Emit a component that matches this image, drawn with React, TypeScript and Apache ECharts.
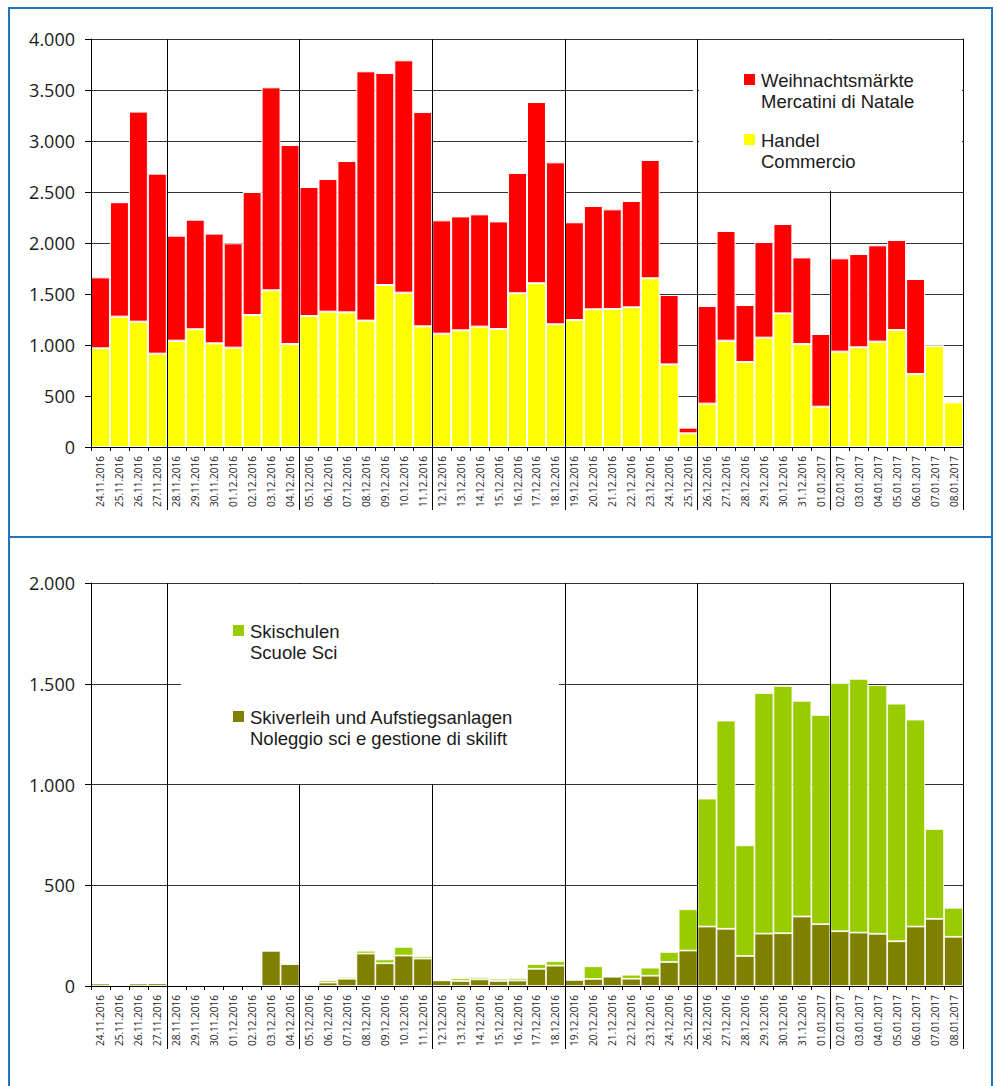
import React, { useEffect, useRef } from "react";
import * as echarts from "echarts";

const dates = [
  "24.11.2016", "25.11.2016", "26.11.2016", "27.11.2016",
  "28.11.2016", "29.11.2016", "30.11.2016", "01.12.2016", "02.12.2016", "03.12.2016", "04.12.2016",
  "05.12.2016", "06.12.2016", "07.12.2016", "08.12.2016", "09.12.2016", "10.12.2016", "11.12.2016",
  "12.12.2016", "13.12.2016", "14.12.2016", "15.12.2016", "16.12.2016", "17.12.2016", "18.12.2016",
  "19.12.2016", "20.12.2016", "21.12.2016", "22.12.2016", "23.12.2016", "24.12.2016", "25.12.2016",
  "26.12.2016", "27.12.2016", "28.12.2016", "29.12.2016", "30.12.2016", "31.12.2016", "01.01.2017",
  "02.01.2017", "03.01.2017", "04.01.2017", "05.01.2017", "06.01.2017", "07.01.2017", "08.01.2017",
];

// Top chart
const handel = [
  967, 1278, 1229, 915,
  1042, 1154, 1016, 974, 1294, 1536, 1010,
  1284, 1327, 1320, 1239, 1588, 1513, 1183,
  1111, 1144, 1180, 1157, 1507, 1605, 1203,
  1245, 1350, 1353, 1369, 1654, 810, 134,
  425, 1042, 833, 1072, 1310, 1010, 395,
  935, 977, 1033, 1147, 716, 990, 438,
];
const weihnachtsmaerkte = [
  696, 1122, 2059, 1765,
  1030, 1075, 1076, 1023, 1206, 1990, 1951,
  1265, 1300, 1484, 2444, 2079, 2278, 2101,
  1111, 1117, 1101, 1055, 1179, 1777, 1588,
  958, 1013, 977, 1043, 1160, 680, 56,
  957, 1076, 559, 938, 876, 849, 713,
  915, 915, 944, 882, 931, 0, 0,
];

// Bottom chart
const skiverleih = [
  12, 5, 12, 13,
  2, 1, 1, 5, 5, 175, 109,
  3, 17, 36, 161, 113, 151, 136,
  28, 25, 33, 25, 27, 85, 101,
  30, 35, 46, 36, 51, 119, 176,
  295, 284, 149, 260, 262, 345, 307,
  272, 265, 259, 222, 295, 333, 244,
];
const skischulen = [
  2, 0, 2, 2,
  0, 0, 2, 0, 0, 0, 0,
  7, 11, 9, 14, 19, 43, 11,
  2, 13, 10, 11, 11, 24, 22,
  6, 63, 5, 20, 40, 50, 205,
  635, 1033, 549, 1194, 1227, 1070, 1038,
  1232, 1259, 1234, 1179, 1027, 446, 144,
];

const topTicks = { min: 0, max: 4000, interval: 500 };
const bottomTicks = { min: 0, max: 2000, interval: 500 };

const FONT = '"Open Sans", "Noto Sans", sans-serif';
const LEGEND_FONT = '"Liberation Sans", Arial, sans-serif';
const BLUE = "#1f75c0";

const fmt = (v: number) =>
  v >= 1000 ? Math.floor(v / 1000) + "." + String(v % 1000).padStart(3, "0") : String(v);

const isWeekStart = (i: number) => i >= 4 && (i - 4) % 7 === 0;

function axesFor(gridIndex: number, ticks: { min: number; max: number; interval: number }) {
  const xAxes = [
    {
      gridIndex,
      type: "category",
      data: dates,
      boundaryGap: true,
      z: 10,
      axisLine: { show: true, lineStyle: { color: "#000", width: 1 } },
      axisTick: { show: true, interval: 0, length: 4, lineStyle: { color: "#000" } },
      axisLabel: {
        interval: 0,
        rotate: 90,
        fontSize: 10,
        margin: 9,
        color: "#1a1a1a",
        fontFamily: FONT,
      },
      splitLine: { show: false },
    },
    {
      gridIndex,
      type: "category",
      data: dates,
      position: "bottom",
      boundaryGap: true,
      z: 10,
      axisLine: { show: false },
      axisLabel: { show: false },
      axisTick: { show: true, interval: isWeekStart, length: 63, lineStyle: { color: "#000" } },
      splitLine: { show: true, interval: isWeekStart, lineStyle: { color: "#000", width: 1 } },
    },
    {
      gridIndex,
      type: "category",
      data: dates,
      position: "top",
      z: 10,
      axisLine: { show: true, lineStyle: { color: "#000" } },
      axisLabel: { show: false },
      axisTick: { show: false },
      splitLine: { show: false },
    },
  ];
  const yAxes = [
    {
      gridIndex,
      type: "value",
      position: "left",
      min: ticks.min,
      max: ticks.max,
      interval: ticks.interval,
      z: 0,
      axisLine: { show: false },
      axisTick: { show: true, length: 6, lineStyle: { color: "#000" } },
      axisLabel: {
        fontSize: 18,
        margin: 16,
        color: "#1a1a1a",
        fontFamily: FONT,
        formatter: fmt,
      },
      splitLine: { show: true, lineStyle: { color: "#333", width: 1 } },
    },
    {
      gridIndex,
      type: "value",
      position: "left",
      min: ticks.min,
      max: ticks.max,
      interval: ticks.interval,
      z: 10,
      axisLine: { show: true, lineStyle: { color: "#000" } },
      axisTick: { show: false },
      axisLabel: { show: false },
      splitLine: { show: false },
    },
    {
      gridIndex,
      type: "value",
      position: "right",
      min: ticks.min,
      max: ticks.max,
      interval: ticks.interval,
      z: 10,
      axisLine: { show: true, lineStyle: { color: "#000" } },
      axisTick: { show: false },
      axisLabel: { show: false },
      splitLine: { show: false },
    },
  ];
  return { xAxes, yAxes };
}

function legendItem(x: number, y: number, color: string, line1: string, line2: string, sq: number) {
  const textStyle = {
    fill: "#1a1a1a",
    fontSize: 18.5,
    fontFamily: LEGEND_FONT,
    verticalAlign: "middle",
    align: "left",
  };
  return [
    { type: "rect", z: 21, shape: { x, y: y - 6, width: sq, height: sq }, style: { fill: color } },
    { type: "text", z: 21, style: { ...textStyle, text: line1, x: x + 17, y } },
    { type: "text", z: 21, style: { ...textStyle, text: line2, x: x + 17, y: y + 21 } },
  ];
}

export default function App() {
  const ref = useRef<HTMLDivElement>(null);

  useEffect(() => {
    document.body.style.margin = "0";
    if (!ref.current) return;
    const chart = echarts.init(ref.current, undefined, { renderer: "svg" });

    const top = axesFor(0, topTicks);
    const bottom = axesFor(1, bottomTicks);

    const barBase = {
      type: "bar",
      barCategoryGap: "0%",
      z: 2,
    };

    const option: any = {
      animation: false,
      backgroundColor: "#fff",
      grid: [
        { left: 91, top: 39, width: 872, height: 408 },
        { left: 91, top: 583, width: 872, height: 403 },
      ],
      xAxis: [...top.xAxes, ...bottom.xAxes],
      yAxis: [...top.yAxes, ...bottom.yAxes],
      series: [
        {
          ...barBase,
          name: "Handel / Commercio",
          stack: "top",
          xAxisIndex: 0,
          yAxisIndex: 0,
          data: handel,
          itemStyle: { color: "#ffff00", borderColor: "#fff", borderWidth: 1 },
        },
        {
          ...barBase,
          name: "Weihnachtsmärkte / Mercatini di Natale",
          stack: "top",
          xAxisIndex: 0,
          yAxisIndex: 0,
          data: weihnachtsmaerkte,
          itemStyle: { color: "#ff0000", borderColor: "#fff", borderWidth: 1 },
        },
        {
          ...barBase,
          name: "Skiverleih und Aufstiegsanlagen / Noleggio sci e gestione di skilift",
          stack: "bottom",
          xAxisIndex: 3,
          yAxisIndex: 3,
          data: skiverleih,
          itemStyle: { color: "#808000", borderColor: "#fff", borderWidth: 0.8 },
        },
        {
          ...barBase,
          name: "Skischulen / Scuole Sci",
          stack: "bottom",
          xAxisIndex: 3,
          yAxisIndex: 3,
          data: skischulen,
          itemStyle: { color: "#99cc00", borderColor: "#fff", borderWidth: 0.8 },
        },
      ],
      graphic: [
        // panel frames
        { type: "line", z: 30, shape: { x1: 9, y1: 8, x2: 992, y2: 8 }, style: { stroke: BLUE, lineWidth: 2 } },
        { type: "line", z: 30, shape: { x1: 9, y1: 537, x2: 992, y2: 537 }, style: { stroke: BLUE, lineWidth: 2 } },
        { type: "line", z: 30, shape: { x1: 9, y1: 7, x2: 9, y2: 1086 }, style: { stroke: BLUE, lineWidth: 2 } },
        { type: "line", z: 30, shape: { x1: 992, y1: 7, x2: 992, y2: 1086 }, style: { stroke: BLUE, lineWidth: 2 } },
        // legend backgrounds (hide grid lines)
        { type: "rect", z: 20, shape: { x: 693, y: 40, width: 4, height: 151 }, style: { fill: "#fff" } },
        { type: "rect", z: 20, shape: { x: 699, y: 40, width: 263, height: 151 }, style: { fill: "#fff" } },
        { type: "rect", z: 20, shape: { x: 181, y: 584, width: 378, height: 200 }, style: { fill: "#fff" } },
        ...legendItem(744, 80, "#ff0000", "Weihnachtsmärkte", "Mercatini di Natale", 11),
        ...legendItem(744, 140, "#ffff00", "Handel", "Commercio", 11),
        ...legendItem(233, 631, "#99cc00", "Skischulen", "Scuole Sci", 11),
        ...legendItem(233, 717, "#808000", "Skiverleih und Aufstiegsanlagen", "Noleggio sci e gestione di skilift", 11),
      ],
    };

    chart.setOption(option);
    return () => chart.dispose();
  }, []);

  return <div ref={ref} style={{ width: 997, height: 1086 }} />;
}
